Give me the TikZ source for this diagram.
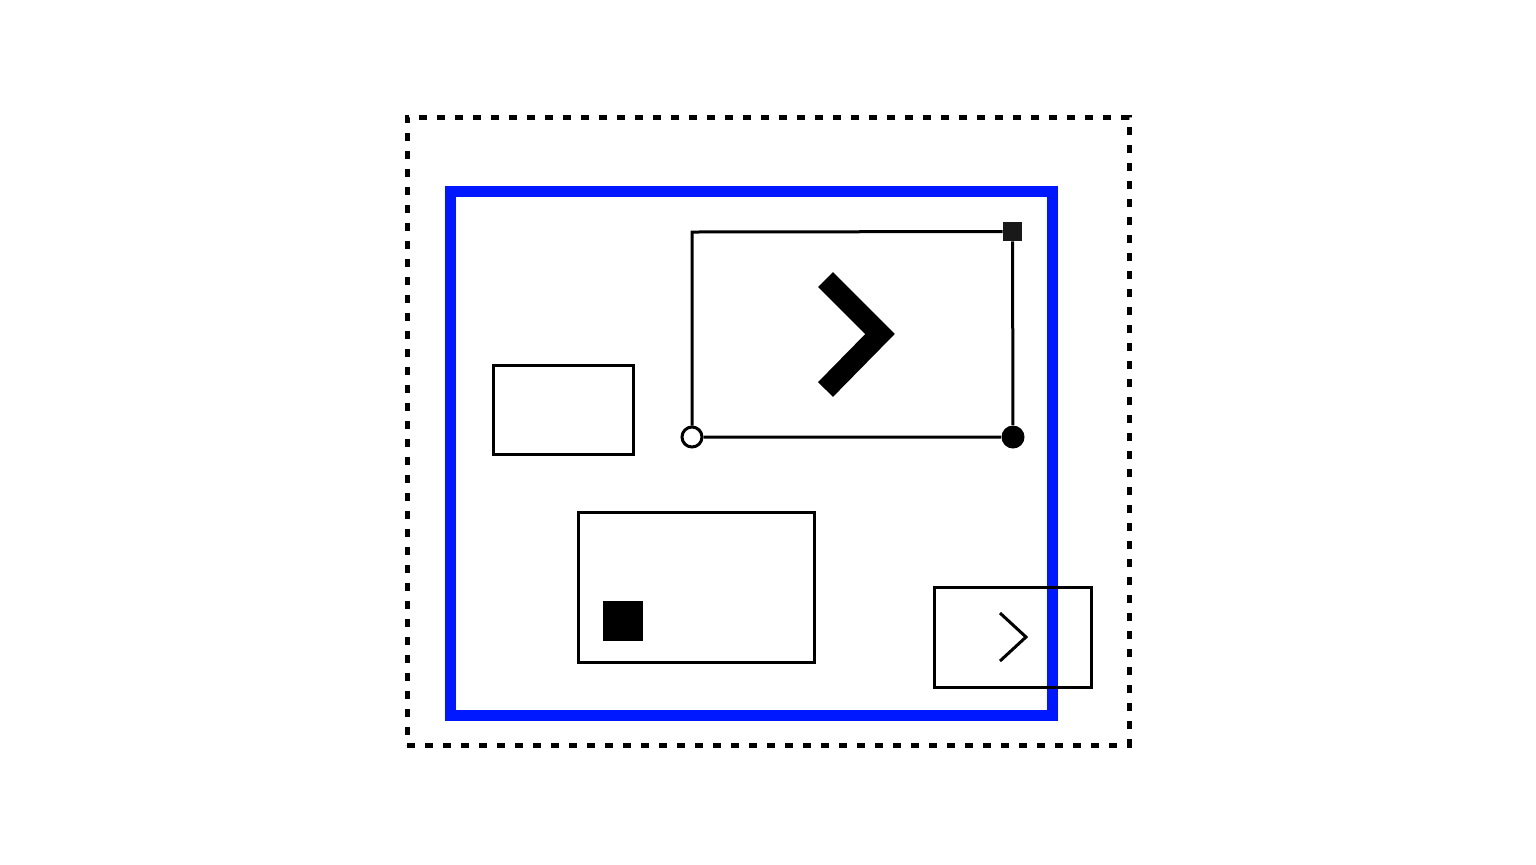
\documentclass[tikz,border=0pt]{standalone}
\usetikzlibrary{positioning}
\definecolor{frameblue}{RGB}{0,24,255}
\begin{document}
\begin{tikzpicture}[x=0.5pt, y=-0.5pt,
        box/.style={draw, line width=1.5pt, inner sep=0pt},
        opendot/.style={circle, draw, fill=white, line width=1.5pt, minimum size=10pt, inner sep=0pt},
        fulldot/.style={circle, fill=black, minimum size=11.5pt, inner sep=0pt},
        handle/.style={rectangle, fill=black!90, minimum size=9.5pt, inner sep=0pt}]
        \useasboundingbox (0,0) rectangle (1536,864);

        \node (outer) [draw, line width=2.5pt, dash pattern=on 4pt off 5pt, inner sep=0pt,
            minimum width=361pt, minimum height=314pt] at (768,431) {};
        \node (frame) [draw=frameblue, line width=5.5pt, inner sep=0pt,
            minimum width=301pt, minimum height=262pt] at (751,453) {};

        \node (leftbox) [box, minimum width=70pt, minimum height=44.5pt] at (563,409.5) {};
        \node (lowbox) [box, minimum width=118pt, minimum height=75pt] at (696,587) {};
        \node (stop) [fill=black, minimum size=20pt, inner sep=0pt] at (623,621) {};
        \node (smallbox) [box, minimum width=78.5pt, minimum height=50pt] at (1012.5,637) {};

        \coordinate (nw) at (692,232);
        \node (ne) [handle] at (1012.5,231.5) {};
        \node (se) [fulldot] at (1013,437) {};
        \node (sw) [opendot] at (692,437) {};
        \draw [line width=1.5pt] (sw) -- (nw) -- (ne);
        \draw [line width=1.5pt] (ne) -- (se) -- (sw);

        \draw [line width=10.5pt, miter limit=10] (825.5,279.5) -- (880,334) -- (825.5,389.5);
        \draw [line width=1.5pt] (1000,613) -- (1026,637) -- (1000,661);
    \end{tikzpicture}
\end{document}
